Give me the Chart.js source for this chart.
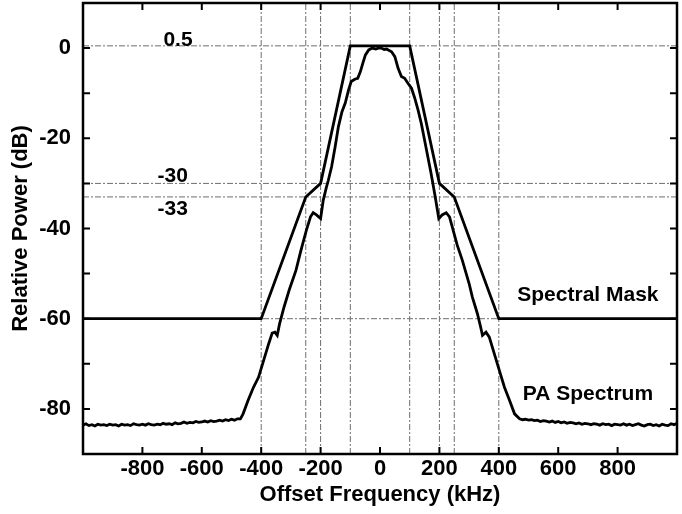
<!DOCTYPE html>
<html>
<head>
<meta charset="utf-8">
<script src="https://cdn.jsdelivr.net/npm/chart.js@4/dist/chart.umd.min.js"></script>
<style>
  html, body { margin: 0; padding: 0; background: #fff; }
  #wrap { width: 682px; height: 514px; }
</style>
</head>
<body>
<div id="wrap"><canvas id="my-chart"></canvas></div>
<script>
// spectral mask corners
const maskFreq = [-1000, -400, -250, -200, -100, 100, 200, 250, 400, 1000];
const maskDb = [-60, -60, -33, -30, 0.5, 0.5, -30, -33, -60, -60];

const paFreq = [
  -1000, -990, -980, -970, -960, -950, -940, -930, -920, -910, -900, -890, -880, -870, -860, -850, -840, -830, -820, -810,
  -800, -790, -780, -770, -760, -750, -740, -730, -720, -710, -700, -690, -680, -670, -660, -650, -640, -630, -620, -610,
  -600, -590, -580, -570, -560, -550, -540, -530, -520, -510, -500, -490, -480, -470,
  -461, -444, -426, -409, -392, -375, -363, -354, -346, -338, -323, -306, -283, -266, -248, -234, -225, -214, -200, -191,
  -181, -174, -163, -151, -140, -128, -117, -106, -97, -85, -75, -66, -58, -49, -38, -26, -14, -6, 4, 14,
  22, 39, 50, 61, 72, 83, 94, 106, 117, 128, 139, 150, 161, 172, 186, 198, 209, 223, 234, 243,
  260, 277, 300, 311, 328, 339, 345, 357, 368, 385, 402, 419, 436, 453,
  470, 480, 490, 500, 510, 520, 530, 540, 550, 560, 570, 580, 590, 600, 610, 620, 630, 640, 650, 660,
  670, 680, 690, 700, 710, 720, 730, 740, 750, 760, 770, 780, 790, 800, 810, 820, 830, 840, 850, 860,
  870, 880, 890, 900, 910, 920, 930, 940, 950, 960, 970, 980, 990, 1000
];
const paDb = [
  -83.6, -83.3, -83.7, -83.5, -83.8, -83.4, -83.6, -83.5, -83.7, -83.4, -83.6, -83.5, -83.8, -83.4, -83.6, -83.5, -83.7, -83.3, -83.5, -83.6,
  -83.4, -83.6, -83.3, -83.5, -83.6, -83.4, -83.5, -83.2, -83.4, -83.3, -83.5, -83.1, -83.3, -83.2, -82.9, -83.2, -83.0, -83.1, -82.8, -83.0,
  -82.9, -82.7, -82.9, -82.6, -82.8, -82.7, -82.5, -82.7, -82.4, -82.6, -82.3, -82.5, -82.2, -82.2,
  -81.1, -78.1, -75.2, -73.0, -69.3, -65.6, -63.2, -63.0, -63.7, -61.1, -57.4, -53.7, -49.3, -44.8, -40.4, -37.4, -36.5, -37.0, -37.8, -33.7,
  -31.0, -29.3, -26.3, -21.9, -17.4, -14.1, -12.2, -9.3, -7.4, -6.9, -6.7, -5.2, -3.4, -1.5, -0.4, 0.0, -0.2, 0.0, 0.0, -0.3,
  -0.2, -0.8, -1.9, -4.5, -6.3, -6.7, -7.8, -8.9, -11.1, -13.7, -16.7, -20.4, -24.1, -27.8, -33.0, -37.8, -37.0, -36.5, -37.4, -39.6,
  -43.7, -47.0, -52.2, -55.2, -58.9, -61.9, -63.7, -63.0, -64.1, -67.8, -71.5, -75.2, -78.1, -81.1,
  -82.2, -82.4, -82.3, -82.5, -82.4, -82.6, -82.5, -82.8, -82.6, -82.7, -82.9, -82.7, -83.0, -82.8, -83.1, -82.9, -83.2, -83.0, -83.1, -83.3,
  -83.1, -83.4, -83.2, -83.3, -83.5, -83.3, -83.4, -83.6, -83.3, -83.5, -83.4, -83.7, -83.4, -83.5, -83.6, -83.3, -83.6, -83.4, -83.7, -83.5,
  -83.3, -83.6, -83.8, -83.5, -83.4, -83.7, -83.5, -83.8, -83.4, -83.6, -83.7, -83.3, -83.5, -83.2
];

// dash-dot guide lines
const guideFreq = [-400, -250, -200, -100, 100, 200, 250, 400];
const guideDb = [0.5, -30, -33, -60];

// text notes on the plot
const noteText = ['0.5', '-30', '-33', 'Spectral Mask', 'PA Spectrum'];
const noteFreq = [-680, -698, -698, 700, 700];
const noteDb = [1.8, -28.4, -35.8, -54.9, -76.7];

const xMin = -1000, xMax = 1000, yMin = -90, yMax = 10;
const fontFamily = '"Liberation Sans", Arial, sans-serif';
const guideColor = '#6e6e6e';

const datasets = [
  {
    label: 'Spectral Mask',
    data: maskFreq.map((f, i) => ({ x: f, y: maskDb[i] })),
    borderColor: '#000', borderWidth: 2.8, pointRadius: 0, tension: 0
  },
  {
    label: 'PA Spectrum',
    data: paFreq.map((f, i) => ({ x: f, y: paDb[i] })),
    borderColor: '#000', borderWidth: 2.8, pointRadius: 0, tension: 0
  }
];
guideDb.forEach(d => {
  datasets.push({
    data: [{ x: xMin, y: d }, { x: xMax, y: d }],
    borderColor: guideColor, borderWidth: 1, borderDash: [6, 2, 2, 2], pointRadius: 0
  });
});
guideFreq.forEach(f => {
  datasets.push({
    data: [{ x: f, y: yMin }, { x: f, y: yMax }],
    borderColor: guideColor, borderWidth: 1, borderDash: [6, 2, 2, 2], pointRadius: 0
  });
});

// frame, inward tick marks and text notes
const frameAndNotes = {
  id: 'frameAndNotes',
  afterDatasetsDraw: chart => {
    const ctx = chart.ctx;
    const area = chart.chartArea;
    const xs = chart.scales.x, ys = chart.scales.y;
    ctx.save();
    ctx.strokeStyle = '#000';
    ctx.lineWidth = 2;
    xs.ticks.forEach(t => {
      const px = xs.getPixelForValue(t.value);
      ctx.beginPath();
      ctx.moveTo(px, area.bottom); ctx.lineTo(px, area.bottom - 7);
      ctx.moveTo(px, area.top); ctx.lineTo(px, area.top + 7);
      ctx.stroke();
    });
    ys.ticks.forEach(t => {
      const py = ys.getPixelForValue(t.value);
      ctx.beginPath();
      ctx.moveTo(area.left, py); ctx.lineTo(area.left + 7, py);
      ctx.moveTo(area.right, py); ctx.lineTo(area.right - 7, py);
      ctx.stroke();
    });
    ctx.lineWidth = 2.5;
    ctx.strokeRect(area.left, area.top, area.right - area.left, area.bottom - area.top);

    ctx.fillStyle = '#000';
    ctx.font = 'bold 21px ' + fontFamily;
    ctx.textAlign = 'center';
    ctx.textBaseline = 'middle';
    noteText.forEach((s, i) => {
      ctx.fillText(s, xs.getPixelForValue(noteFreq[i]), ys.getPixelForValue(noteDb[i]));
    });
    ctx.restore();
  }
};

new Chart(document.getElementById('my-chart').getContext('2d'), {
  type: 'line',
  data: { datasets: datasets },
  options: {
    responsive: true,
    maintainAspectRatio: false,
    animation: false,
    devicePixelRatio: 1,
    layout: { padding: { top: 3, right: 5, bottom: 0, left: 0 } },
    plugins: { legend: { display: false }, tooltip: { enabled: false } },
    scales: {
      x: {
        type: 'linear', min: xMin, max: xMax,
        grid: { display: false, drawTicks: false }, border: { display: false },
        ticks: {
          stepSize: 200, autoSkip: false, padding: 2, color: '#000', maxRotation: 0,
          font: { family: fontFamily, size: 22, weight: 'bold' },
          callback: v => (Math.abs(v) < 1000 ? String(v) : '')
        },
        title: {
          display: true, text: 'Offset Frequency (kHz)', color: '#000',
          font: { family: fontFamily, size: 22, weight: 'bold' },
          padding: { top: 0, bottom: 6 }
        },
        afterFit: scale => {
          scale.height = 60;
          scale.paddingLeft = 0;
          scale.paddingRight = 0;
        }
      },
      y: {
        type: 'linear', min: yMin, max: yMax,
        grid: { display: false, drawTicks: false }, border: { display: false },
        ticks: {
          stepSize: 10, autoSkip: false, padding: 12, color: '#000',
          font: { family: fontFamily, size: 22, weight: 'bold' },
          callback: v => (v % 20 === 0 && v <= 0 && v >= -80 ? String(v) : '')
        },
        title: {
          display: true, text: 'Relative Power (dB)', color: '#000',
          font: { family: fontFamily, size: 22, weight: 'bold' },
          padding: { top: 8, bottom: 0 }
        },
        afterFit: scale => {
          scale.width = 83;
          scale.paddingTop = 0;
          scale.paddingBottom = 0;
        }
      }
    }
  },
  plugins: [frameAndNotes]
});
</script>
</body>
</html>
